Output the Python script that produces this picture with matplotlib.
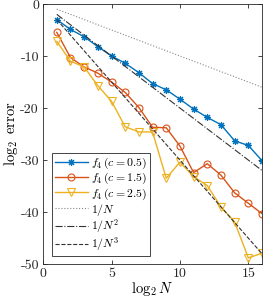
import matplotlib
matplotlib.use("Agg")
import matplotlib.pyplot as plt
import numpy as np

plt.rcParams['font.family'] = 'serif'
plt.rcParams['font.serif'] = ['cmr10', 'DejaVu Serif']
plt.rcParams['mathtext.fontset'] = 'cm'
plt.rcParams['axes.unicode_minus'] = False
plt.rcParams['axes.formatter.use_mathtext'] = True

log2N = list(range(1, 17))
err_c05 = [-3.0, -4.9, -6.3, -8.2, -10.0, -11.4, -13.2, -15.3, -16.5, -18.3, -20.2, -21.8, -23.2, -26.3, -27.2, -30.1]
err_c15 = [-5.45, -10.3, -12.1, -13.3, -15.0, -17.0, -19.9, -23.7, -23.8, -27.3, -32.4, -30.7, -32.9, -36.3, -38.3, -40.3]
err_c25 = [-7.2, -11.0, -12.1, -15.7, -18.7, -23.6, -24.6, -24.6, -33.5, -30.4, -33.2, -34.9, -39.0, -41.9, -48.8, -47.9]
ref_orders = [1, 2, 3]
ref_labels = [r'$1/N$', r'$1/N^2$', r'$1/N^3$']
series_labels = [r'$f_4\,(c=0.5)$', r'$f_4\,(c=1.5)$', r'$f_4\,(c=2.5)$']

fig = plt.figure(figsize=(2.66, 3.05), dpi=100)
ax = fig.add_axes([0.162, 0.134, 0.823, 0.853])

x = np.array(log2N)
ax.plot(x, err_c05, color='#0072BD', marker=(8, 2, 0), ms=5, lw=1, mew=0.8, label=series_labels[0])
ax.plot(x, err_c15, color='#D95319', marker='o', ms=5, lw=1, mfc='none', mew=0.8, label=series_labels[1])
ax.plot(x, err_c25, color='#EDB120', marker='v', ms=5.5, lw=1, mfc='none', mew=0.8, label=series_labels[2])
styles = [dict(ls=':', color='#888888', lw=0.8), dict(ls='-.', color='#333333', lw=0.8), dict(ls='--', color='#333333', lw=0.8)]
for p, lab, st in zip(ref_orders, ref_labels, styles):
    ax.plot(x, -p * x, label=lab, **st)

ax.set_xlim(0, 16)
ax.set_ylim(-50, 0)
ax.set_xticks([0, 5, 10, 15])
ax.set_yticks([0, -10, -20, -30, -40, -50])
ax.set_xticklabels(['0', '5', '10', '15'])
ax.set_yticklabels(['0', '-10', '-20', '-30', '-40', '-50'])
ax.tick_params(direction='in', top=True, right=True, labelsize=10, length=3, width=0.6, colors='#262626', pad=3)
for s in ax.spines.values():
    s.set_linewidth(0.6)
    s.set_color('#262626')
ax.set_xlabel(r'$\log_2 N$', fontsize=10.5, labelpad=0)
ax.set_ylabel(r'$\log_2$ error', fontsize=10.5, labelpad=0)

leg = ax.legend(loc='lower left', bbox_to_anchor=(0.04, 0.03), borderaxespad=0, fontsize=8.5,
                frameon=True, fancybox=False, edgecolor='#262626', framealpha=1,
                handlelength=2.8, handletextpad=0.3, labelspacing=0.0, borderpad=0.25)
leg.get_frame().set_linewidth(0.6)

fig.savefig('out.png', dpi=100)
